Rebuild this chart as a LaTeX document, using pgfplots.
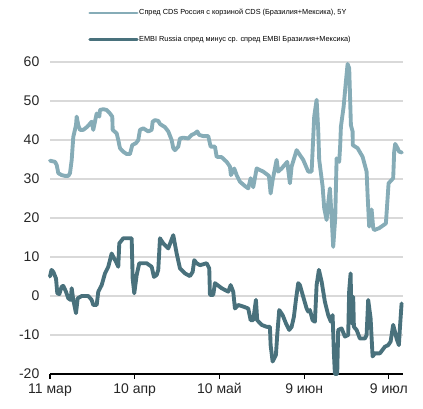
\documentclass[border=0pt]{standalone}
\usepackage{fontspec}
\setmainfont{Liberation Sans}
\usepackage{pgfplots}
\pgfplotsset{compat=1.18}
\definecolor{cdsc}{RGB}{134,172,183}
\definecolor{embic}{RGB}{73,113,124}
\definecolor{gridc}{RGB}{217,217,217}
\begin{document}
\begin{tikzpicture}
\useasboundingbox (-37.5pt,-25.5pt) rectangle (279.75pt,280.5pt);
\begin{axis}[
  scale only axis,
  width=264.75pt, height=234pt,
  xmin=0, xmax=125, ymin=-20, ymax=60,
  clip=false,
  x filter/.expression={(x-50)/2.825},
  axis x line*=bottom,
  axis y line*=left,
  y axis line style={draw=none},
  x axis line style={black, line width=0.8pt},
  xtick={0,30,60,90,120},
  xticklabels={11 мар,10 апр,10 май,9 июн,9 июл},
  ytick={-20,-10,0,10,20,30,40,50,60},
  yticklabels={-20,-10,0,10,20,30,40,50,60},
  tick align=outside,
  major tick length=3.5pt,
  xtick style={draw=black, line width=0.8pt},
  ytick style={draw=none},
  ymajorgrids,
  grid style={gridc, line width=0.8pt},
  tick label style={font=\fontsize{10.5}{12}\selectfont, text=black!85},
  yticklabel style={xshift=-1pt},
  legend style={
    at={(axis description cs:0.1077,1.172)}, anchor=north west,
    draw=none, fill=none, inner sep=0pt, row sep=13.5pt,
    font=\fontsize{5.5}{6.5}\selectfont,
    nodes={inner sep=0.5pt},
  },
  legend cell align=left,
  legend image code/.code={\draw[#1, line width=2.2pt] (0pt,0pt) -- (35.5pt,0pt);},
  every axis plot/.append style={line join=round, line cap=round},
]
\addplot[cdsc, line width=2.9pt] coordinates {
(50,34.7) (55,34.4) (56.7,33.6) (58.3,31.5) (61.7,31.0) (65,30.8) (68.3,30.8) (70,31.5)
(71.7,34.9) (73.3,40.8) (76,43.8) (76.7,46.0) (78.3,43.8) (80,42.6) (83.3,42.6) (87.3,43.4)
(91.7,44.7) (93.3,42.6) (95.7,45.6) (96.7,46.8) (99.3,46.0) (100,47.7) (103.3,47.9) (106.7,47.7)
(110,46.8) (112.3,46.0) (112.7,42.6) (116.7,41.7) (118.3,40.0) (120,37.9) (123.3,37.0) (126.7,36.4)
(130,36.4) (132.3,38.7) (136,39.2) (138.3,40.0) (140,42.6) (143.3,43.0) (148.3,42.2) (151.7,42.6)
(152.7,44.7) (155,45.1) (158.3,44.9) (160,44.1) (165,43.3) (168.3,42.2) (171.7,40.0) (173.3,37.9)
(175,37.4) (178.3,38.3) (180,40.4) (183.3,40.6) (188.3,40.4) (191.7,41.3) (195,41.7) (197.3,42.2)
(199.3,41.3) (203.3,41.0) (208.3,41.0) (210.7,38.3) (215,38.3) (216.7,35.7) (221.7,35.6) (226.7,34.4)
(230,33.2) (231,31.0) (234.3,32.7) (236.7,31.0) (240,29.3) (245,28.2) (248.3,27.6) (250.7,30.2)
(253.3,27.9) (256.7,32.7) (263.3,31.9) (269,30.8) (270.7,26.3) (272.7,29.7) (276.7,34.9) (278.3,31.9)
(281.7,32.7) (287.3,34.4) (290,28.9) (291.7,33.2) (296.7,37.4) (303.3,34.9) (308.3,31.9) (311.7,31.9)
(314.3,46.0) (316.7,50.3) (318.3,42.6) (319.3,34.9) (322.7,28.1) (324.3,22.5) (326.7,19.5) (328.3,23.8)
(330,27.6) (331.7,20.3) (333.3,12.6) (335.3,19.9) (336.7,35.3) (339.3,34.4) (340.3,38.7) (341,43.4)
(343.7,48.5) (346,55.0) (347.7,59.5) (349.3,58.4) (351,43.8) (352.7,42.2) (352.9,38.7) (357.7,37.9)
(362.7,35.7) (366.7,31.9) (367.7,25.9) (369.3,17.8) (371.7,22.2) (373.3,17.5) (374.3,16.9) (379.3,17.4)
(386,18.6) (388.7,28.9) (393.3,30.2) (394.3,37.0) (395.3,39.0) (397.7,37.9) (399.3,37.0) (402,36.8)
};
\addlegendentry{Спред CDS Россия с корзиной CDS (Бразилия+Мексика), 5Y}
\addplot[embic, line width=2.9pt] coordinates {
(50,5.0) (51.5,6.7) (53.3,6.2) (56,4.5) (57.3,0.7) (59.3,0.5) (61.7,2.4) (63.3,2.6) (66,1.1)
(68.3,-0.6) (70.7,-1.0) (71.7,2.0) (73.3,-1.0) (76,-4.4) (77.7,-0.6) (81.7,0.0) (88.3,0.0)
(91.7,-1.0) (93.3,-2.3) (96.7,-2.3) (98.3,1.1) (101.7,2.8) (105,5.8) (108.3,7.5) (111.7,10.9)
(114,9.7) (116,8.8) (118.3,7.5) (119.3,13.5) (123.3,14.8) (131.7,14.8) (132.7,4.5) (134.3,0.7)
(136.7,5.4) (139.3,8.4) (146.7,8.4) (151.7,7.5) (154,4.9) (156.7,5.4) (158.3,6.7) (160,14.8)
(163.3,13.5) (168.3,12.2) (173.3,15.6) (176.7,10.9) (180,7.1) (185,5.8) (190,5.1) (192.7,6.2)
(194.3,9.2) (196.7,8.4) (200,7.9) (206.7,8.4) (209.3,7.1) (210,0.3) (213.3,0.3) (215,3.3)
(221.7,2.0) (228.3,1.1) (230.7,2.8) (233.3,1.1) (235,-3.2) (238.3,-2.3) (243.3,-2.7) (248.3,-3.2)
(250.7,-6.2) (253.3,-6.2) (256,-1.0) (257.3,-6.2) (261.7,-7.4) (266.7,-7.9) (270,-7.9) (270.7,-12.6)
(272.7,-16.8) (276,-15.1) (277.3,-10.0) (279.3,-3.6) (282.7,-4.9) (286,-7.0) (289.3,-8.7) (291.7,-7.9)
(294,-5.3) (296,-1.0) (298.3,3.3) (300,2.8) (303.3,-0.2) (306.7,-3.2) (308.3,-4.0) (310,-3.6)
(312.7,-6.2) (315,-6.6) (316.7,2.8) (319,6.7) (321.7,3.7) (325,-1.5) (328.3,-4.9) (331,-6.6)
(332.7,-4.9) (334,-14.7) (335,-20) (337.3,-20) (338.3,-8.7) (341.7,-8.3) (345,-10.4) (348.3,-10.0)
(349.3,1.5) (350.7,5.8) (351.7,-7.0) (353.3,-0.2) (354,-7.9) (356.7,-8.7) (360,-10.9) (365,-10.9)
(366.7,-10.0) (368.3,-1.0) (370.7,-5.7) (372.7,-15.5) (375,-14.7) (380,-14.7) (385,-13.0) (388.3,-12.6)
(390.7,-11.7) (393.3,-7.4) (395,-9.1) (396.7,-10.9) (399,-12.6) (400,-8.3) (401.7,-1.9)
};
\addlegendentry{EMBI Russia спред минус ср. спред EMBI Бразилия+Мексика)}
\end{axis}
\end{tikzpicture}
\end{document}
